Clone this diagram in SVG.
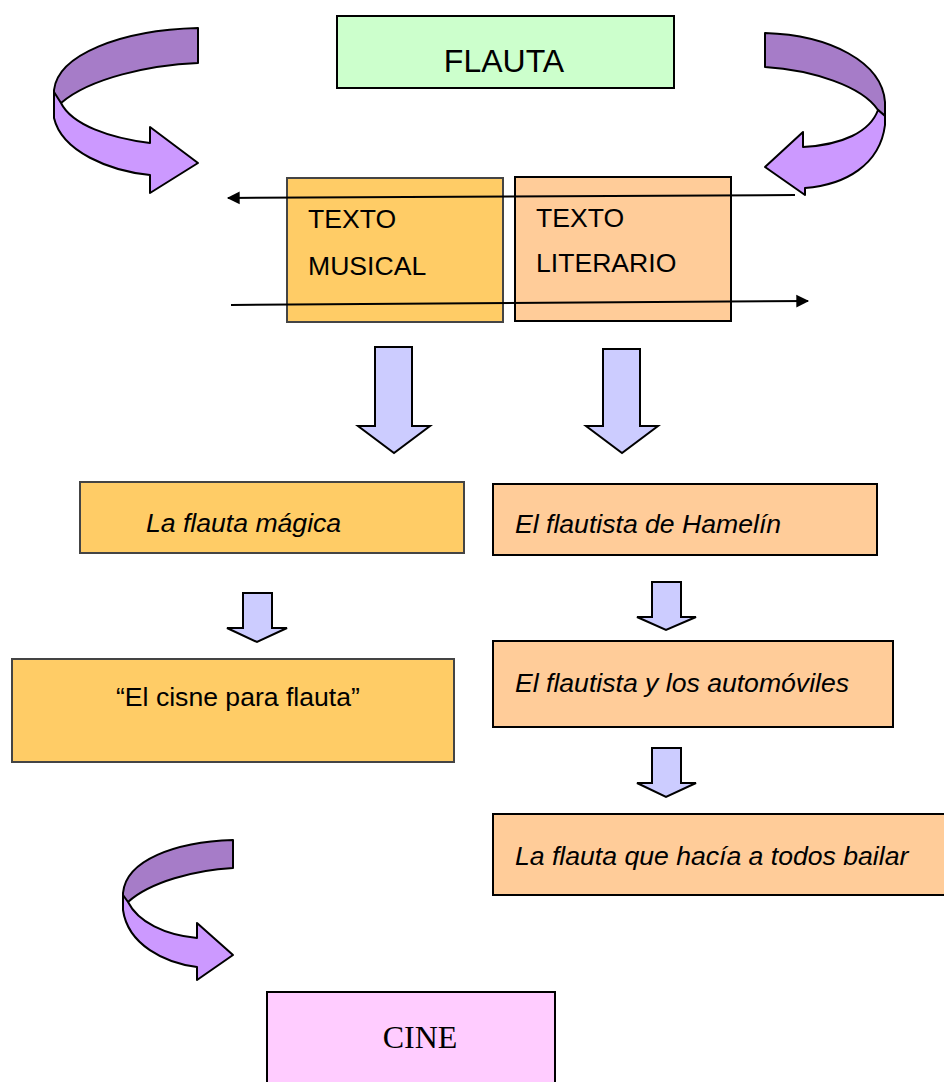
<svg xmlns="http://www.w3.org/2000/svg" width="944" height="1082" viewBox="0 0 944 1082">
<defs>
<style>
.box{stroke:#000;stroke-width:2}
.bl{stroke:#444;stroke-width:2}
.t{font-family:"Liberation Sans",Arial,sans-serif;font-size:26.6px;fill:#000}
.i{font-style:italic}
.dark{fill:#A67CC8;stroke:#000;stroke-width:2;stroke-linejoin:round}
.light{fill:#CC99FF;stroke:#000;stroke-width:2;stroke-linejoin:round}
.down{fill:#CCCCFF;stroke:#000;stroke-width:2;stroke-linejoin:miter}
.ln{stroke:#000;stroke-width:2;fill:none}
</style>
<marker id="ah" viewBox="0 0 10 10" refX="9" refY="5" markerWidth="8" markerHeight="8" markerUnits="userSpaceOnUse" orient="auto" overflow="visible">
<path d="M0,0 L10,5 L0,10 Z" fill="#000" transform="scale(1.6) translate(-3.5,-1.9)"/>
</marker>
</defs>
<rect width="944" height="1082" fill="#fff"/>

<g id="flauta">
<rect class="box" x="337" y="16" width="337" height="72" fill="#CCFFCC"/>
<text class="t" x="504" y="72" text-anchor="middle" style="font-size:32px">FLAUTA</text>
</g>

<g id="texto-musical">
<rect class="bl" x="287" y="178" width="216" height="144" fill="#FFCC66"/>
<text class="t" x="308" y="228">TEXTO</text>
<text class="t" x="308" y="275">MUSICAL</text>
</g>

<g id="texto-literario">
<rect class="box" x="515" y="177" width="216" height="144" fill="#FFCC99"/>
<text class="t" x="536" y="227">TEXTO</text>
<text class="t" x="536" y="272">LITERARIO</text>
</g>

<g id="flauta-magica">
<rect class="bl" x="80" y="482" width="384" height="71" fill="#FFCC66"/>
<text class="t i" x="146" y="532">La flauta mágica</text>
</g>

<g id="hamelin">
<rect class="box" x="493" y="484" width="384" height="71" fill="#FFCC99"/>
<text class="t i" x="515" y="533">El flautista de Hamelín</text>
</g>

<g id="cisne">
<rect class="bl" x="12" y="659" width="442" height="103" fill="#FFCC66"/>
<text class="t" x="116" y="706">“El cisne para flauta”</text>
</g>

<g id="automoviles">
<rect class="box" x="493" y="641" width="400" height="86" fill="#FFCC99"/>
<text class="t i" x="515" y="692">El flautista y los automóviles</text>
</g>

<g id="bailar">
<rect class="box" x="493" y="814" width="460" height="81" fill="#FFCC99"/>
<text class="t i" x="515" y="865">La flauta que hacía a todos bailar</text>
</g>

<g id="cine">
<rect class="box" x="267" y="992" width="288" height="100" fill="#FFCCFF"/>
<text x="420" y="1048" text-anchor="middle" style="font-family:'Liberation Serif','Times New Roman',serif;font-size:32px;fill:#000">CINE</text>
</g>

<g id="connectors">
<line class="ln" x1="795" y1="195" x2="228" y2="198" marker-end="url(#ah)"/>
<line class="ln" x1="231" y1="305" x2="808" y2="301" marker-end="url(#ah)"/>

<path class="down" d="M375,347 L412,347 L412,426 L430,426 L394,453 L358,426 L375,426 Z"/>
<path class="down" d="M603,349 L640,349 L640,426 L658,426 L622,453 L586,426 L603,426 Z"/>
<path class="down" d="M243,593 L272,593 L272,628 L287,628 L257,642 L227,628 L243,628 Z"/>
<path class="down" d="M652,582 L681,582 L681,617 L696,617 L666,630 L637,617 L652,617 Z"/>
<path class="down" d="M652,748 L681,748 L681,783 L696,783 L666,797 L637,783 L652,783 Z"/>

<!-- top-left curved arrow -->
<path class="dark" d="M198,28 C120,30 58,55 54,90 L54,96 L61,103 C90,78 150,65 198,63 Z"/>
<path class="light" d="M54,92 L54,118 C62,152 110,171 150,175 L150,193 L198,163 L150,127 L150,143 C110,138 72,125 61,103 Z"/>

<!-- top-right curved arrow -->
<path class="dark" d="M765,33 C830,35 882,62 885,102 L885,116 L878,110 C862,86 812,70 765,67 Z"/>
<path class="light" d="M878,110 L885,116 L885,125 C880,165 845,185 805,188 L805,195 L765,167 L803,132 L803,147 C842,145 870,132 878,110 Z"/>

<!-- bottom-left curved arrow -->
<path class="dark" d="M233,840 C175,842 126,860 123,893 L123,898 L128,902 C150,882 195,870 233,868 Z"/>
<path class="light" d="M123,895 L123,910 C128,945 165,963 197,967 L197,980 L233,955 L197,923 L197,938 C165,935 138,922 128,902 Z"/>
</g>
</svg>
